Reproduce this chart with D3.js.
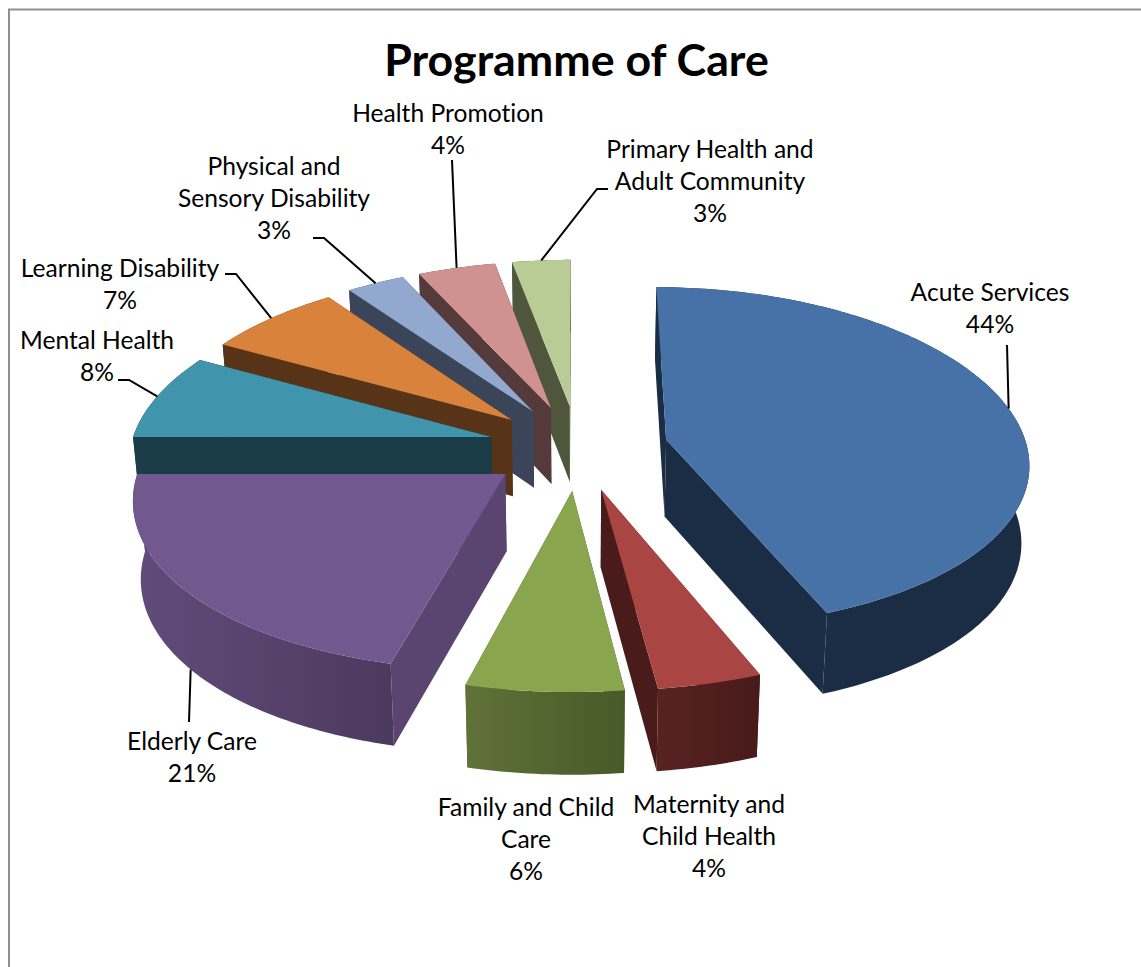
<!DOCTYPE html>
<html>
<head>
<meta charset="utf-8">
<script src="https://cdn.jsdelivr.net/npm/d3@7/dist/d3.min.js"></script>
<style>
  html, body { margin: 0; padding: 0; background: #fff; }
  svg { display: block; }
  text { font-family: Lato, "Open Sans", sans-serif; fill: #000; font-variant-ligatures: none; }
</style>
</head>
<body>
<svg id="chart" width="1141" height="967"></svg>
<script>
// Programme of Care: share of spend by programme
const chartTitle = "Programme of Care";
const categories = ["Acute Services", "Maternity and Child Health", "Family and Child Care",
  "Elderly Care", "Mental Health", "Learning Disability",
  "Physical and Sensory Disability", "Health Promotion", "Primary Health and Adult Community"];
const shares = [44, 4, 6, 21, 8, 7, 3, 4, 3];

// Face, cut-wall and rim shading per slice
const faceColors = ["#4672a8", "#a94543", "#89a54e", "#71588e", "#4095ad", "#d9823b", "#93a8cf", "#d09291", "#b9cc95"];
const cutColors  = ["#1b2d45", "#4a1b1b", "#4d5c2a", "#5a4570", "#1a3c47", "#573418", "#3b4559", "#553a3b", "#4f563c"];
const rimStart   = ["#1b2d45", "#572321", "#607238", "#614c7a", "#1a3c47", "#573418", "#3b4559", "#553a3b", "#4f563c"];
const rimEnd     = ["#1b2d45", "#481a1a", "#475a28", "#4c395e", "#1a3c47", "#573418", "#3b4559", "#553a3b", "#4f563c"];

// Wrapped label lines and where each sits; leaders run from the slice's rim through `via`
const labelLines = [["Acute Services"], ["Maternity and", "Child Health"], ["Family and Child", "Care"],
  ["Elderly Care"], ["Mental Health"], ["Learning Disability"],
  ["Physical and", "Sensory Disability"], ["Health Promotion"], ["Primary Health and", "Adult Community"]];
const labelAnchors = [[990, 301], [709, 813], [526, 816], [192, 750], [97, 349], [120, 277], [274, 175], [448, 122], [710, 158]];
const leaderVia = [
  [[1007, 345]], null, null, [[189, 722]], [[129, 380], [118, 380]], [[236, 274], [225, 274]],
  [[324, 238], [313, 238]], [[452, 160]], [[597, 189], [608, 189]]
];
const leaderFromBase = [false, false, false, true, false, false, false, false, false];

// Camera set-up for the tilted, exploded pie
const view = { cx: 578, cy: 447.5, rx: 361, ry: 170, depthX: 8, depthY: 9.5, thick: 77, baseShrink: 0.018, explode: 0.25 };

const svg = d3.select("#chart");
const defs = svg.append("defs");

// Chart frame: only the top and left edges fall inside the page
svg.append("path")
  .attr("d", "M9,967V9.5H1141")
  .attr("fill", "none").attr("stroke", "#8f8f8f").attr("stroke-width", 2);

svg.append("text")
  .attr("transform", "translate(576.5,76) scale(1.04,1)")
  .attr("text-anchor", "middle")
  .attr("font-size", 43).attr("font-weight", 700)
  .text(chartTitle);

// Clockwise from twelve o'clock, keeping the listed order
const pie = d3.pie().sort(null).value(d => d).startAngle(0).endAngle(2 * Math.PI);
const arcs = pie(shares).map((a, i) => ({ ...a, i, mid: (a.startAngle + a.endAngle) / 2 }));

function project(a, radius, mid, z) {
  const X = radius * Math.sin(a) + view.explode * Math.sin(mid);
  const Y = radius * Math.cos(a) + view.explode * Math.cos(mid);
  const wx = 1 + Y / view.depthX;
  const wy = 1 + Y / view.depthY;
  return [
    view.cx + view.rx * X / (wx * (1 + view.baseShrink * z)),
    view.cy - view.ry * Y / wy + view.thick * z / Math.sqrt(wy)
  ];
}

const line = d3.line();
const closed = pts => line(pts) + "Z";

function rimPoints(d, z) {
  const n = Math.max(8, Math.ceil((d.endAngle - d.startAngle) * 60));
  return d3.range(n + 1).map(k => project(d.startAngle + (d.endAngle - d.startAngle) * k / n, 1, d.mid, z));
}

function cutWall(d, angle) {
  return closed([
    project(angle, 0, d.mid, 0), project(angle, 1, d.mid, 0),
    project(angle, 1, d.mid, 1), project(angle, 0, d.mid, 1)
  ]);
}

arcs.forEach(d => {
  const g = defs.append("linearGradient").attr("id", "rim" + d.i);
  g.append("stop").attr("offset", 0).attr("stop-color", rimStart[d.i]);
  g.append("stop").attr("offset", 1).attr("stop-color", rimEnd[d.i]);
});

// Painter's order: slices furthest from the viewer go first
const order = arcs.slice().sort((p, q) => d3.descending(Math.cos(p.mid), Math.cos(q.mid)));
const slices = svg.append("g").selectAll("g").data(order).join("g");

slices.append("path").attr("d", d => cutWall(d, d.startAngle)).attr("fill", d => cutColors[d.i]);
slices.append("path").attr("d", d => cutWall(d, d.endAngle)).attr("fill", d => cutColors[d.i]);
slices.append("path")
  .attr("d", d => closed(rimPoints(d, 0).concat(rimPoints(d, 1).reverse())))
  .attr("fill", d => `url(#rim${d.i})`);
slices.append("path")
  .attr("d", d => closed([project(0, 0, d.mid, 0)].concat(rimPoints(d, 0))))
  .attr("fill", d => faceColors[d.i]);

// Leader lines
svg.append("g").selectAll("path")
  .data(arcs.filter(d => leaderVia[d.i]))
  .join("path")
  .attr("d", d => line([project(d.mid, 1, d.mid, leaderFromBase[d.i] ? 1 : 0)].concat(leaderVia[d.i])))
  .attr("fill", "none").attr("stroke", "#000").attr("stroke-width", 2);

// Category and percentage labels
const labels = svg.append("g").selectAll("g").data(arcs).join("g")
  .attr("transform", d => `translate(${labelAnchors[d.i][0]},${labelAnchors[d.i][1]}) scale(0.985,1)`);
labels.selectAll("text")
  .data(d => labelLines[d.i].concat(d.value + "%"))
  .join("text")
  .attr("y", (t, k) => k * 32)
  .attr("text-anchor", "middle")
  .attr("font-size", 25)
  .text(t => t);
</script>
</body>
</html>
